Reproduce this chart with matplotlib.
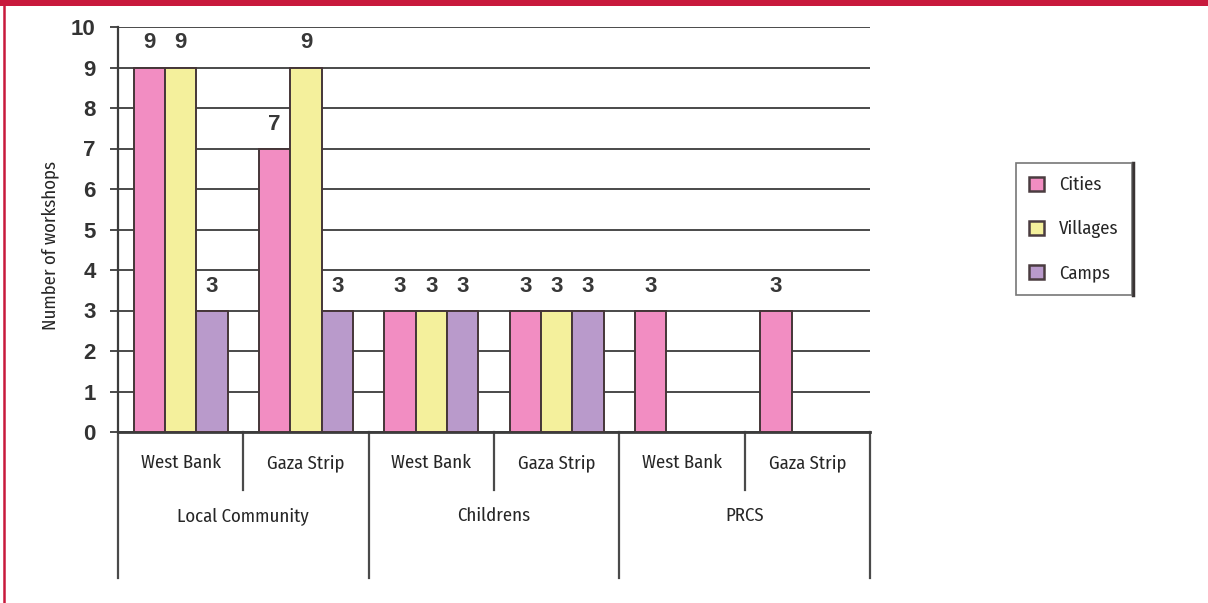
import numpy as np
import matplotlib
matplotlib.use('Agg')
import matplotlib.pyplot as plt
from matplotlib.patches import Rectangle
from matplotlib.lines import Line2D
import matplotlib.transforms as mtransforms

#####################  data  ####################
groups = ['Local Community', 'Childrens', 'PRCS']
regions = ['West Bank', 'Gaza Strip']
series = ['Cities', 'Villages', 'Camps']
cities = [9, 7, 3, 3, 3, 3]
villages = [9, 9, 3, 3, 0, 0]
camps = [3, 3, 3, 3, 0, 0]

colors = ['#f28dc2', '#f4f09c', '#b99acb']
edge = '#453638'
grid_col = '#3c3c3c'
red = '#c8193c'
narrow = ['Fira Sans Condensed', 'DejaVu Sans']
bold = ['Liberation Sans', 'DejaVu Sans']
small = dict(fontsize=13.5, family=narrow, fontweight='normal', color='#262626')

#####################  figure  ####################
W, H = 1208, 603
fig = plt.figure(figsize=(W / 100, H / 100), dpi=100)
fig.patch.set_facecolor('white')

# axes box in pixels: x 118..870, y 27..432 (from top)
ax = fig.add_axes([118 / W, 1 - 432 / H, (870 - 118) / W, (432 - 27) / H])

n = len(cities)
x = np.arange(n)
bw = 0.25
values = [cities, villages, camps]
for k, (vals, c, name) in enumerate(zip(values, colors, series)):
    xs = x + (k - 1) * bw
    keep = [i for i in range(n) if vals[i] > 0]
    ax.bar(xs[keep], [vals[i] for i in keep], width=bw, color=c,
           edgecolor=edge, linewidth=1.4, label=name, zorder=3)
    for i in keep:
        ax.annotate(str(vals[i]), (xs[i], vals[i]), xytext=(0, 19),
                    textcoords='offset pixels', ha='center', va='baseline',
                    fontsize=16, fontweight='bold', family=bold,
                    color='#383838', zorder=4)

ax.set_xlim(-0.5, n - 0.5)
ax.set_ylim(0, 10)
ax.set_yticks(range(11))
ax.yaxis.grid(True, color=grid_col, linewidth=1.3, zorder=0)
ax.set_axisbelow(True)
ax.set_xticks([])
for s in ['top', 'right']:
    ax.spines[s].set_visible(False)
ax.spines['left'].set_color(grid_col)
ax.spines['left'].set_linewidth(1.6)
ax.spines['bottom'].set_color(grid_col)
ax.spines['bottom'].set_linewidth(2.0)
ax.tick_params(axis='y', length=6, width=1.3, color=grid_col, pad=10,
               labelsize=16, labelcolor='#333333', labelfontfamily=bold)
for lab in ax.get_yticklabels():
    lab.set_fontweight('bold')

ax.set_ylabel('Number of workshops', **small)
ax.yaxis.set_label_coords(-0.078, 0.46)

# category tree under the x axis
trans = mtransforms.blended_transform_factory(ax.transData, ax.transAxes)
for i in range(n + 1):
    xb = i - 0.5
    low = -0.36 if i % 2 == 0 else -0.143
    ax.add_line(Line2D([xb, xb], [0, low], transform=trans, color='#4a4a4a',
                       linewidth=1.6, clip_on=False))
for i in range(n):
    ax.text(i, -0.077, regions[i % 2], transform=trans, ha='center',
            va='center', **small)
for g, name in enumerate(groups):
    ax.text(2 * g + 0.5, -0.207, name, transform=trans, ha='center',
            va='center', **small)

# legend
leg = fig.legend(loc='upper left', bbox_to_anchor=(1016 / W, 1 - 163 / H),
                 frameon=True, fancybox=False,
                 prop={'family': narrow, 'size': 13.5, 'weight': 'normal'},
                 handlelength=0.8, handleheight=0.8, labelspacing=1.4,
                 borderpad=0.7, handletextpad=0.8, borderaxespad=0)
leg.get_frame().set_edgecolor('#555555')
leg.get_frame().set_linewidth(1.2)
for h in leg.legend_handles:
    h.set_linewidth(1.8)
    h.set_edgecolor('#4a3c40')
for t in leg.get_texts():
    t.set_color('#262626')

fig.canvas.draw()
bb = leg.get_window_extent()
fig.add_artist(Line2D([(bb.x1 + 1) / W] * 2, [bb.y0 / H, bb.y1 / H],
                      transform=fig.transFigure, color='#3a3434', linewidth=2.5))

# red frame
fig.add_artist(Rectangle((0, 1 - 6 / H), 1, 6 / H, transform=fig.transFigure,
                         facecolor=red, edgecolor='none'))
fig.add_artist(Line2D([4 / W, 4 / W], [0, 1], transform=fig.transFigure,
                      color=red, linewidth=1.8))

fig.savefig('out.png', dpi=100)
